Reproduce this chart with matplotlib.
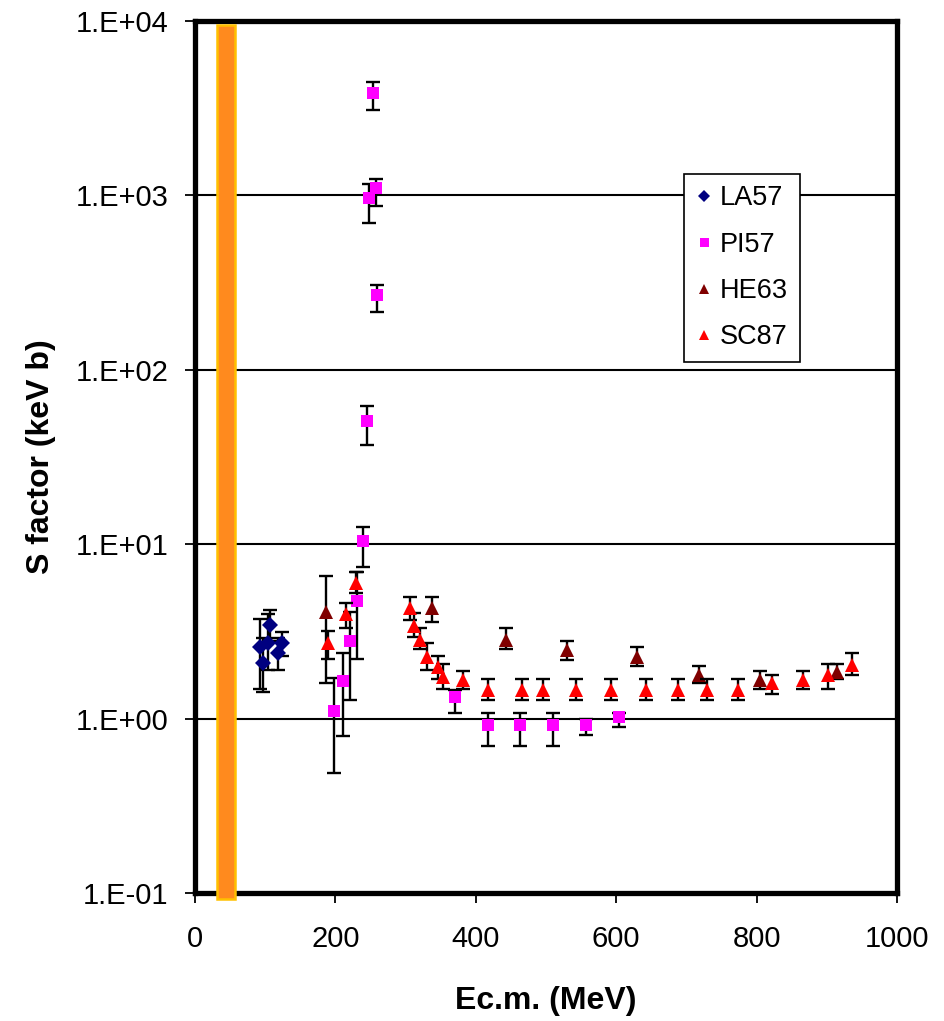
import numpy as np
import matplotlib
matplotlib.use('Agg')
from matplotlib import pyplot as plt
from matplotlib.lines import Line2D
from matplotlib.patches import Rectangle
from matplotlib.ticker import FixedLocator, FixedFormatter

plt.rcParams['font.family'] = ['Liberation Sans', 'DejaVu Sans']

# LA57
la_x = [92, 97, 104, 107, 118, 124]
la_y = [2.58, 2.08, 2.71, 3.44, 2.38, 2.71]
la_hi = [3.7, 2.9, 4.0, 4.2, 2.9, 3.15]
la_lo = [1.48, 1.42, 1.9, 2.8, 1.9, 2.28]

# PI57
pi_x = [198, 211, 221, 231, 239, 245, 248, 254, 258, 259, 370, 417, 463, 510, 557, 604]
pi_y = [1.1, 1.64, 2.8, 4.72, 10.4, 50.8, 970, 3870, 1100, 270, 1.33, 0.92, 0.92, 0.92, 0.92, 1.02]
pi_hi = [1.7, 2.38, 4.1, 6.9, 12.6, 62, 1170, 4460, 1250, 308, 1.46, 1.08, 1.08, 1.08, 1.0, 1.08]
pi_lo = [0.49, 0.79, 1.28, 2.2, 7.4, 37, 695, 3100, 870, 215, 1.08, 0.70, 0.70, 0.70, 0.80, 0.90]

# HE63
he_x = [186, 337, 443, 530, 629, 718, 805, 914]
he_y = [4.08, 4.31, 2.82, 2.47, 2.25, 1.78, 1.66, 1.85]
he_hi = [6.56, 4.98, 3.3, 2.79, 2.57, 2.0, 1.87, 2.05]
he_lo = [1.6, 3.58, 2.5, 2.17, 2.0, 1.6, 1.48, 1.69]

# SC87
sc_x = [189, 215, 229, 306, 312, 320, 331, 346, 353, 382, 417, 466, 496, 543,
        593, 643, 688, 729, 774, 822, 866, 902, 936]
sc_y = [2.71, 3.98, 5.99, 4.31, 3.39, 2.82, 2.25, 1.98, 1.73, 1.66, 1.46, 1.46, 1.46, 1.46,
        1.46, 1.46, 1.46, 1.46, 1.46, 1.6, 1.66, 1.78, 2.03]
sc_hi = [3.17, 4.6, 6.9, 4.98, 4.03, 3.3, 2.7, 2.28, 2.05, 1.87, 1.69, 1.69, 1.69, 1.69,
         1.69, 1.69, 1.69, 1.69, 1.69, 1.78, 1.87, 2.05, 2.38]
sc_lo = [2.2, 3.3, 5.25, 3.68, 2.94, 2.5, 1.9, 1.69, 1.48, 1.48, 1.28, 1.28, 1.28, 1.28,
         1.28, 1.28, 1.28, 1.28, 1.28, 1.39, 1.48, 1.48, 1.78]

band = (32, 57)  # shaded energy range
y_ticks = [1e-1, 1e0, 1e1, 1e2, 1e3, 1e4]
y_labels = ['1.E-01', '1.E+00', '1.E+01', '1.E+02', '1.E+03', '1.E+04']
x_ticks = [0, 200, 400, 600, 800, 1000]

series = [
    ('LA57', la_x, la_y, la_lo, la_hi, 'D', '#000080', 8.5),
    ('PI57', pi_x, pi_y, pi_lo, pi_hi, 's', '#FF00FF', 9),
    ('HE63', he_x, he_y, he_lo, he_hi, '^', '#800000', 10.5),
    ('SC87', sc_x, sc_y, sc_lo, sc_hi, '^', '#FF0000', 10.5),
]

fig = plt.figure(figsize=(9.45, 10.21), dpi=100)
ax = fig.add_axes([0.2063, 0.1254, 0.7429, 0.854])

for i, (name, x, y, lo, hi, mk, col, ms) in enumerate(series):
    y = np.array(y)
    yerr = [y - np.array(lo), np.array(hi) - y]
    ax.errorbar(x, y, yerr=yerr, fmt='none', ecolor='black', elinewidth=1.7,
                capsize=5.2, capthick=1.7, zorder=3 + i)
    ax.plot(x, y, linestyle='none', marker=mk, color=col, markersize=ms,
            markeredgewidth=0, zorder=3.5 + i)

ax.set_yscale('log')
ax.set_ylim(1e-1, 1e4)
ax.set_xlim(0, 1000)
ax.yaxis.set_major_locator(FixedLocator(y_ticks))
ax.yaxis.set_major_formatter(FixedFormatter(y_labels))
ax.yaxis.set_minor_locator(FixedLocator([]))
ax.set_xticks(x_ticks)
ax.grid(True, axis='y', color='black', linewidth=1.5, zorder=1)
ax.set_axisbelow(True)

for s in ax.spines.values():
    s.set_linewidth(3.8)
ax.tick_params(axis='both', direction='out', length=7, width=1.3, labelsize=21)
ax.tick_params(axis='x', pad=16)
ax.tick_params(axis='y', pad=12)

ax.set_xlabel('Ec.m. (MeV)', fontsize=23, fontweight='bold', labelpad=24)
ax.set_ylabel('S factor (keV b)', fontsize=23, fontweight='bold', labelpad=14)

# orange band, drawn over the frame like the original
trans = ax.get_xaxis_transform()
ax.add_patch(Rectangle((band[0], -0.007), band[1] - band[0], 1.002, transform=trans,
                       facecolor='#FF8A1E', edgecolor='#FFC000', linewidth=1.8,
                       clip_on=False, zorder=10))

handles = [Line2D([], [], linestyle='none', marker=mk, color=col, markersize=ms * 0.72,
                  markeredgewidth=0) for (_, _, _, _, _, mk, col, ms) in series]
leg = ax.legend(handles, [s[0] for s in series], loc='upper left',
                bbox_to_anchor=(0.697, 0.8245), borderaxespad=0, fontsize=19.5,
                frameon=True, fancybox=False, edgecolor='black', framealpha=1,
                handlelength=0.6, handletextpad=0.3, labelspacing=0.75,
                borderpad=0.42)
leg.get_frame().set_linewidth(1.2)
leg.set_zorder(20)

fig.savefig('out.png', dpi=100)
